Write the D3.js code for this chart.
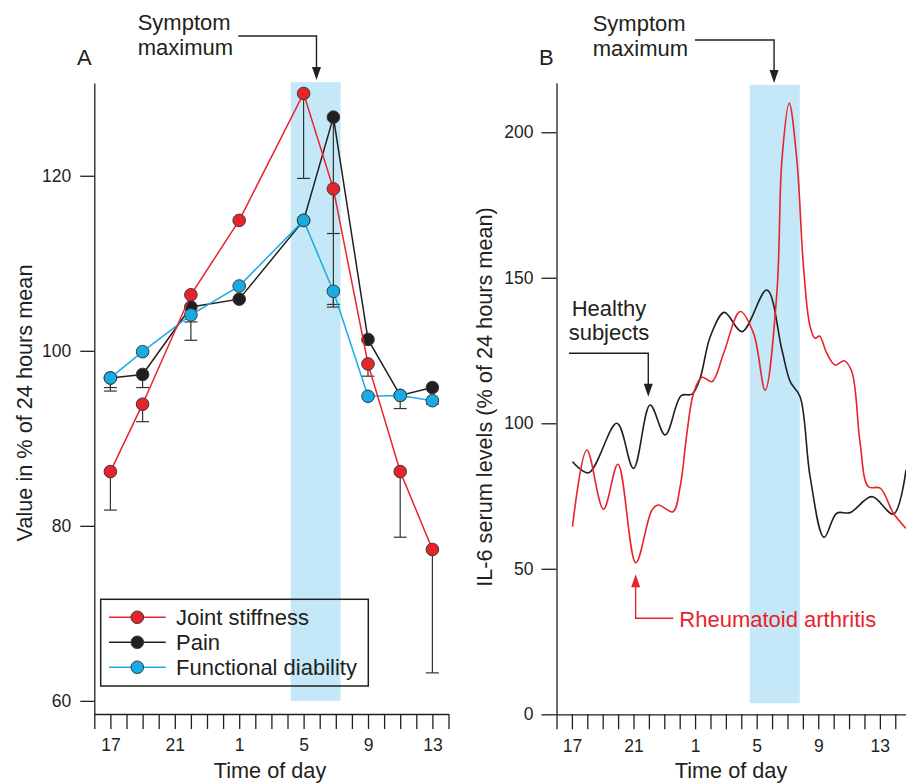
<!DOCTYPE html>
<html lang="en">
<head>
<meta charset="utf-8">
<title>Symptom maximum - joint stiffness and IL-6</title>
<script src="https://cdn.jsdelivr.net/npm/d3@7"></script>
<style>
  body { margin: 0; background: #fff; }
  svg { font-family: "Liberation Sans", Arial, sans-serif; }
  .axis path, .axis line { stroke: #231f20; stroke-width: 1.3; }
  .axis text { font-size: 17.5px; fill: #231f20; font-family: "Liberation Sans", Arial, sans-serif; }
  .title { font-size: 21.7px; fill: #231f20; }
  .note { font-size: 22px; fill: #231f20; }
</style>
</head>
<body>
<script>
"use strict";

// hours run on from 16 (= 16 h) to 38 (= 14 h next day)
let tickHours = [17, 21, 25, 29, 33, 37];
let tickLabels = ["17", "21", "1", "5", "9", "13"];

// panel A
let hoursA = [17, 19, 22, 25, 29, 30.85, 33, 35, 37];
let stiffness = [86.2, 93.9, 106.4, 114.9, 129.4, 118.5, 98.5, 86.2, 77.3];
let pain = [96.9, 97.3, 105.0, 105.9, 114.9, 126.7, 101.3, 94.9, 95.8];
let disability = [96.9, 99.9, 104.1, 107.4, 114.9, 106.8, 94.8, 94.9, 94.3];
// lower ends of the error bars (null = no bar)
let stiffnessErr = [81.8, 91.9, null, null, 119.7, 113.4, 97.1, 78.7, 63.2];
let painErr = [95.8, 95.8, 103.3, null, null, 105.3, null, 93.4, null];
let disabilityErr = [95.4, null, 101.2, null, null, 105.0, null, null, 93.9];
let bandA = [28.2, 31.3];
let bandAValues = [60, 130.7];

// panel B
let healthyHours = [17.04, 18.08, 19.92, 21.0, 22.08, 23.06, 24.1, 24.8, 25.3, 26.0, 26.9, 28.04, 29.66, 30.64, 31.18, 31.82, 32.47, 33.38, 34.2, 35.07, 36.48, 37.88, 38.7];
let healthy = [86.8, 83, 100, 84.5, 106.3, 96, 109.5, 110, 115, 130, 138.1, 131.5, 145.8, 125.2, 114.3, 109.1, 81.7, 60.8, 69.1, 69.3, 74.8, 68.8, 84];
let raHours = [17.04, 17.97, 19.05, 19.99, 21.15, 22.2, 22.6, 23.56, 24.03, 24.47, 24.9, 25.44, 26.1, 26.85, 27.93, 28.8, 29.55, 30.31, 30.64, 31.11, 31.61, 32.04, 32.47, 32.8, 33.08, 33.56, 34.1, 34.68, 35.18, 35.72, 36.26, 37.02, 37.88, 38.7];
let ra = [64.5, 90.8, 70.5, 85.9, 52.1, 70.2, 71.9, 69.6, 78.2, 96.6, 110.3, 115.8, 114.3, 124, 138.4, 130.9, 111.4, 144.7, 190.5, 210, 190.5, 153.8, 133.2, 129.2, 130, 124, 120, 121.5, 117.7, 93.1, 78.2, 77.7, 69.1, 63.9];
let bandB = [28.55, 31.8];
let bandBValues = [3.8, 216.3];

let ink = "#231f20";
let red = "#e8232a";
let blue = "#17ace6";
let bandColor = "#c5e8f8";

let svg = d3.select("body").append("svg")
    .attr("width", 906)
    .attr("height", 783);

let xA = d3.scaleLinear().domain([16, 38]).range([94.3, 448.5]);
let yA = d3.scaleLinear().domain([58.5, 130.6]).range([714, 83]);
let xB = d3.scaleLinear().domain([16, 38.75]).range([556.5, 906.8]);
let yB = d3.scaleLinear().domain([0, 217]).range([714.3, 82.8]);

function hourFormat(h) {
    let i = tickHours.indexOf(h);
    return i < 0 ? "" : tickLabels[i];
}

//shaded bands
svg.append("rect")
    .attr("x", xA(bandA[0])).attr("width", xA(bandA[1]) - xA(bandA[0]))
    .attr("y", yA(bandAValues[1])).attr("height", yA(bandAValues[0]) - yA(bandAValues[1]))
    .attr("fill", bandColor);
svg.append("rect")
    .attr("x", xB(bandB[0])).attr("width", xB(bandB[1]) - xB(bandB[0]))
    .attr("y", yB(bandBValues[1])).attr("height", yB(bandBValues[0]) - yB(bandBValues[1]))
    .attr("fill", bandColor);

//axes
function xAxis(scale, y) {
    svg.append("g").attr("class", "axis")
        .attr("transform", "translate(0," + y + ")")
        .call(d3.axisBottom(scale).tickValues(d3.range(16, 39))
            .tickSize(15).tickSizeOuter(0).tickPadding(10).tickFormat(hourFormat));
}
xAxis(xA, yA.range()[0]);
xAxis(xB, yB.range()[0]);

svg.append("g").attr("class", "axis")
    .attr("transform", "translate(" + xA.range()[0] + ",0)")
    .call(d3.axisLeft(yA).tickValues([60, 80, 100, 120]).tickSize(14).tickSizeOuter(0).tickPadding(9));
svg.append("g").attr("class", "axis")
    .attr("transform", "translate(" + xB.range()[0] + ",0)")
    .call(d3.axisLeft(yB).tickValues([0, 50, 100, 150, 200]).tickSize(15).tickSizeOuter(0).tickPadding(8));

//axis titles
svg.append("text").attr("class", "title").attr("text-anchor", "middle")
    .attr("transform", "translate(32,403) rotate(-90)")
    .text("Value in % of 24 hours mean");
svg.append("text").attr("class", "title").attr("text-anchor", "middle")
    .attr("transform", "translate(492,397) rotate(-90)")
    .text("IL-6 serum levels (% of 24 hours mean)");
svg.append("text").attr("class", "title").attr("text-anchor", "middle")
    .attr("x", 270).attr("y", 777.5).text("Time of day");
svg.append("text").attr("class", "title").attr("text-anchor", "middle")
    .attr("x", 731).attr("y", 777.5).text("Time of day");
svg.append("text").attr("class", "note").attr("x", 77).attr("y", 65).text("A");
svg.append("text").attr("class", "note").attr("x", 539).attr("y", 65).text("B");

//panel A series
let seriesA = [
    {name: "Pain", values: pain, err: painErr, line: ink, fill: ink},
    {name: "Functional diability", values: disability, err: disabilityErr, line: blue, fill: blue},
    {name: "Joint stiffness", values: stiffness, err: stiffnessErr, line: red, fill: red}
];

let errG = svg.append("g").attr("stroke", "#333").attr("stroke-width", 1.2);
seriesA.forEach(function(s) {
    s.err.forEach(function(e, i) {
        if (e === null) return;
        let x = xA(hoursA[i]);
        errG.append("line").attr("x1", x).attr("x2", x)
            .attr("y1", yA(s.values[i])).attr("y2", yA(e));
        errG.append("line").attr("x1", x - 6.5).attr("x2", x + 6.5)
            .attr("y1", yA(e)).attr("y2", yA(e));
    });
});

let lineA = d3.line()
    .x(function(d, i) { return xA(hoursA[i]); })
    .y(function(d) { return yA(d); });

seriesA.forEach(function(s) {
    svg.append("path").datum(s.values)
        .attr("d", lineA)
        .attr("fill", "none")
        .attr("stroke", s.line)
        .attr("stroke-width", 1.5);
    svg.append("g").selectAll("circle")
        .data(s.values)
        .enter()
        .append("circle")
        .attr("cx", function(d, i) { return xA(hoursA[i]); })
        .attr("cy", function(d) { return yA(d); })
        .attr("r", 6.3)
        .attr("fill", s.fill)
        .attr("stroke", "#3a3a3a")
        .attr("stroke-width", 1);
});

//legend
let legend = svg.append("g");
legend.append("rect")
    .attr("x", 100.7).attr("y", 599.3).attr("width", 267.6).attr("height", 86.7)
    .attr("fill", "none").attr("stroke", ink).attr("stroke-width", 1.5);
[seriesA[2], seriesA[0], seriesA[1]].forEach(function(s, i) {
    let y = 617.3 + i * 25;
    legend.append("line").attr("x1", 109).attr("x2", 165.7).attr("y1", y).attr("y2", y)
        .attr("stroke", s.line).attr("stroke-width", 1.5);
    legend.append("circle").attr("cx", 137.3).attr("cy", y).attr("r", 6.3)
        .attr("fill", s.fill).attr("stroke", "#3a3a3a").attr("stroke-width", 1);
    legend.append("text").attr("class", "note").attr("x", 176).attr("y", y).attr("dy", "0.36em")
        .text(s.name);
});

//panel B curves
let lineB = d3.line().curve(d3.curveCatmullRom.alpha(0.5));
svg.append("path")
    .attr("d", lineB(healthyHours.map(function(h, i) { return [xB(h), yB(healthy[i])]; })))
    .attr("fill", "none").attr("stroke", ink).attr("stroke-width", 1.6);
svg.append("path")
    .attr("d", lineB(raHours.map(function(h, i) { return [xB(h), yB(ra[i])]; })))
    .attr("fill", "none").attr("stroke", red).attr("stroke-width", 1.6);

//annotations
function arrowHead(x, y, dir, color) {
    // dir 1 = pointing down, -1 = pointing up
    svg.append("path")
        .attr("d", "M" + x + "," + y + "L" + (x - 4.5) + "," + (y - dir * 13) + "L" + (x + 4.5) + "," + (y - dir * 13) + "Z")
        .attr("fill", color);
}
function elbow(points, color) {
    svg.append("path").attr("d", d3.line()(points))
        .attr("fill", "none").attr("stroke", color).attr("stroke-width", 1.4);
}

let symptomA = xA(29.8);
svg.append("text").attr("class", "note").attr("x", 137.7).attr("y", 29.5).text("Symptom");
svg.append("text").attr("class", "note").attr("x", 137.7).attr("y", 54.5).text("maximum");
elbow([[238.3, 36], [symptomA, 36], [symptomA, 72]], ink);
arrowHead(symptomA, 80, 1, ink);

let symptomB = xB(30.13);
svg.append("text").attr("class", "note").attr("x", 592.7).attr("y", 30.5).text("Symptom");
svg.append("text").attr("class", "note").attr("x", 592.7).attr("y", 56).text("maximum");
elbow([[695, 40], [symptomB, 40], [symptomB, 75]], ink);
arrowHead(symptomB, 83, 1, ink);

let healthyX = xB(21.96);
svg.append("text").attr("class", "note").attr("x", 609).attr("y", 316).attr("text-anchor", "middle").text("Healthy");
svg.append("text").attr("class", "note").attr("x", 609).attr("y", 340).attr("text-anchor", "middle").text("subjects");
elbow([[569, 353.3], [healthyX, 353.3], [healthyX, 389]], ink);
arrowHead(healthyX, yB(109.1), 1, ink);

let raX = xB(21.14);
svg.append("text").attr("class", "note").attr("x", 679.3).attr("y", 627.3).style("fill", red)
    .text("Rheumatoid arthritis");
elbow([[673.3, 618.3], [raX, 618.3], [raX, 582]], red);
arrowHead(raX, yB(48.1), -1, red);
</script>
</body>
</html>
